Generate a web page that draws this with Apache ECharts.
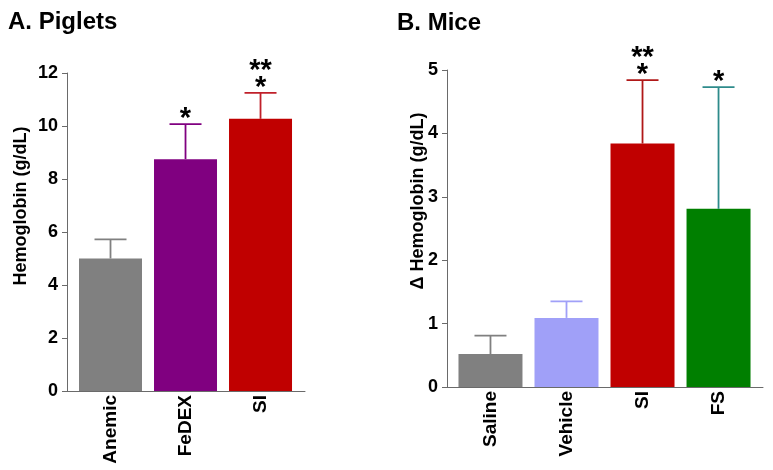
<!DOCTYPE html>
<html><head><meta charset="utf-8">
<script src="https://cdn.jsdelivr.net/npm/echarts@6/dist/echarts.min.js"></script>
<style>html,body{margin:0;padding:0;background:#fff}#c{width:773px;height:470px}</style>
</head><body><div id="c"></div>
<script>
const pigletCategories = ['Anemic', 'FeDEX', 'SI'];
const pigletMeans = [5.0, 8.75, 10.27];
const pigletUpper = [5.72, 10.07, 11.25];
const pigletColors = ['#808080', '#800080', '#c00000'];
const pigletErrColors = ['#808080', '#800080', '#c0202a'];
const pigletSig = ['', '*', '**\n*'];

const miceCategories = ['Saline', 'Vehicle', 'SI', 'FS'];
const miceMeans = [0.52, 1.09, 3.84, 2.81];
const miceUpper = [0.81, 1.35, 4.84, 4.73];
const miceColors = ['#808080', '#a0a0f8', '#c00000', '#007f00'];
const miceErrColors = ['#808080', '#a0a0f8', '#b01818', '#2e8b8b'];
const miceSig = ['', '', '**\n*', '*'];

const FONT = '"Liberation Sans", Arial, sans-serif';
const STAR = 29;

function errSeries(idx, means, upper, errColors, sig) {
  return {
    type: 'custom', xAxisIndex: idx, yAxisIndex: idx, clip: false, z: 5,
    data: means.map((m, i) => [i, m, upper[i]]),
    encode: { x: 0, y: [1, 2] },
    renderItem: function (params, api) {
      const i = params.dataIndex;
      const x = api.value(0), m = api.value(1), u = api.value(2);
      const p0 = api.coord([x, m]), p1 = api.coord([x, u]);
      const c = errColors[i];
      const children = [
        { type: 'line', shape: { x1: p0[0], y1: p0[1], x2: p1[0], y2: p1[1] }, style: { stroke: c, lineWidth: 1.8 } },
        { type: 'line', shape: { x1: p1[0] - 16, y1: p1[1], x2: p1[0] + 16, y2: p1[1] }, style: { stroke: c, lineWidth: 1.8 } }
      ];
      const lines = sig[i] ? sig[i].split('\n').reverse() : [];
      lines.forEach((t, k) => {
        children.push({
          type: 'text',
          style: {
            text: t, x: p1[0], y: p1[1] - 11 - k * 17 + 0.21 * STAR,
            align: 'center', verticalAlign: 'middle',
            font: 'bold ' + STAR + 'px ' + FONT, fill: '#000'
          }
        });
      });
      return { type: 'group', children: children };
    }
  };
}

function barSeries(idx, means, colors) {
  return {
    type: 'bar', xAxisIndex: idx, yAxisIndex: idx, barWidth: idx === 0 ? 63 : 64,
    data: means.map((v, i) => ({ value: [i, v], itemStyle: { color: colors[i] } }))
  };
}

const axisColor = '#6a6a6a';
function yAx(idx, max, interval) {
  return {
    gridIndex: idx, type: 'value', min: 0, max: max, interval: interval,
    axisLine: { show: true, onZero: false, lineStyle: { color: axisColor, width: 1 } },
    axisTick: { show: true, length: 5, lineStyle: { color: axisColor } },
    axisLabel: { fontSize: 18, fontWeight: 'bold', color: '#000', margin: 9, fontFamily: FONT },
    splitLine: { show: false }
  };
}
function xAx(idx, min, max, cats) {
  return {
    gridIndex: idx, type: 'value', min: min, max: max,
    axisLine: { show: true, onZero: false, lineStyle: { color: axisColor, width: 1 } },
    axisTick: { show: false }, splitLine: { show: false },
    axisLabel: {
      customValues: cats.map((c, i) => i),
      formatter: v => cats[Math.round(v)],
      rotate: 90, fontSize: 19, fontWeight: 'bold', color: '#000', margin: 4, fontFamily: FONT
    }
  };
}

function vText(text, x, y) {
  return {
    type: 'text', x: x, y: y, rotation: Math.PI / 2,
    style: { text: text, align: 'center', verticalAlign: 'middle', font: 'bold 18px ' + FONT, fill: '#000' }
  };
}

const chart = echarts.init(document.getElementById('c'));
chart.setOption({
  animation: false,
  backgroundColor: '#fff',
  textStyle: { fontFamily: FONT },
  title: [
    { text: 'A. Piglets', left: 3, top: 5, textStyle: { fontSize: 24, fontWeight: 'bold', color: '#000', fontFamily: FONT } },
    { text: 'B. Mice', left: 392, top: 6, textStyle: { fontSize: 24, fontWeight: 'bold', color: '#000', fontFamily: FONT } }
  ],
  graphic: [
    vText('Hemoglobin (g/dL)', 21, 206),
    vText('Δ Hemoglobin (g/dL)', 418, 201)
  ],
  grid: [
    { left: 67, top: 73, width: 238, height: 318 },
    { left: 447, top: 70, width: 316, height: 317 }
  ],
  xAxis: [
    xAx(0, -0.58, 2.593, pigletCategories),
    xAx(1, -0.572, 3.585, miceCategories)
  ],
  yAxis: [
    yAx(0, 12, 2),
    yAx(1, 5, 1)
  ],
  series: [
    barSeries(0, pigletMeans, pigletColors),
    errSeries(0, pigletMeans, pigletUpper, pigletErrColors, pigletSig),
    barSeries(1, miceMeans, miceColors),
    errSeries(1, miceMeans, miceUpper, miceErrColors, miceSig)
  ]
});
</script></body></html>
